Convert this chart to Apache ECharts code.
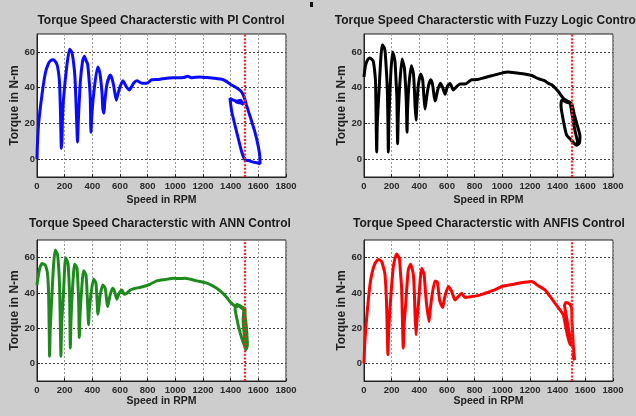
<!DOCTYPE html>
<html>
<head>
<meta charset="utf-8">
<script src="https://cdn.jsdelivr.net/npm/echarts@6/dist/echarts.min.js"></script>
<style>
html,body{margin:0;padding:0;background:#cdcdcd;}
#chart{width:636px;height:416px;}
</style>
</head>
<body>
<div id="chart"></div>
<script>
// ---- data ----
const xTicks = [0, 200, 400, 600, 800, 1000, 1200, 1400, 1600, 1800];
const yTicks = [0, 20, 40, 60];
const refSpeed = 1500;
const titles = [
  'Torque Speed Characterstic with PI Control',
  'Torque Speed Characterstic with Fuzzy Logic Control',
  'Torque Speed Characterstic with ANN Control',
  'Torque Speed Characterstic with ANFIS Control'
];

const piSpeed = [0,3,12,36,60,80,96,120,144,158,164,170,176,180,184,192,217,236,253,270,277,285,293,298,313,330,342,356,366,378,385,390,396,409,438,448,457,470,476,484,490,505,529,540,553,573,580,597,621,645,669,680,698,722,758,794,830,880,938,1000,1059,1090,1120,1179,1230,1275,1347,1400,1450,1480,1500,1515,1540,1576,1600,1610,1612,1590,1564,1530,1504,1480,1444,1408,1395,1420,1456,1492,1470,1440,1465,1495];
const piTorque = [0,8,20,36,48,53,55,55.6,53,47,41,25,6,10,22,34,53,61.5,59.5,50,41.5,25,9.6,20,43,55,57.5,55,53,43,34,15,24,36,51.5,50,47,37,28,25.6,32,41.6,47,45.5,41.6,33,35,39.7,43.8,40.6,38.7,40,42.5,43.8,42.5,42.5,44.4,44.6,45.3,45.5,45.7,46.3,45.5,46,45.6,45.3,44.4,41.8,39.5,37.5,34,30,24,15,7,2,-2.6,-2,-1.7,-0.8,-0.4,4,15,26.5,34,33,32,30.6,33,32,31.5,31];

const fuzzySpeed = [0,10,25,43,67,80,84,88,92,96,111,122,132,145,152,163,169,173,176,180,193,207,215,224,233,238,243,248,260,275,283,292,300,306,311,315,325,342,357,365,369,376,382,393,410,424,433,441,450,465,482,496,513,520,533,552,569,586,595,605,622,646,670,694,730,778,820,875,940,995,1043,1080,1116,1170,1212,1260,1308,1330,1357,1405,1441,1470,1501,1520,1545,1561,1557,1537,1500,1465,1445,1424,1430,1460,1490,1500,1520,1540,1552,1540,1550];
const fuzzyTorque = [46,52,55.5,56.6,54.7,47,41.6,20,4,20,41.6,57,64,62.5,60.4,48,37.8,20,4,22,47,60,58,54.7,42,34,8.6,25,43.4,56,54,51,42,32,15,28,41.6,52.3,48,38,30,21.8,30,41.6,47.6,44.4,35,28,33,40.6,44.4,41.6,32.5,34,38.7,42.5,40,36.3,38.5,41,42.3,38.7,40.6,42,42,44.4,44.5,45.7,47,48.1,48.7,48.4,48.1,47.5,46.8,45,43.8,42.5,41.6,37.8,34,32.5,31,25,18,13,9,7.7,10.5,13.4,20,30,33,32,31,27,18,11,8,9,10];

const annSpeed = [0,10,20,36,60,77,84,88,91,96,108,120,132,149,160,164,169,173,178,192,207,224,232,236,241,246,257,272,289,296,301,306,311,320,337,354,362,366,373,378,390,409,426,434,440,446,457,476,493,502,510,516,529,546,561,577,594,614,630,650,674,698,770,820,866,930,987,1030,1071,1110,1155,1227,1270,1299,1340,1372,1400,1420,1440,1460,1480,1504,1504,1512,1516,1521,1511,1497,1480,1460,1449,1432,1445,1470,1495,1490,1500,1510,1515];
const annTorque = [44.5,50,54,56.6,55.7,50,38.9,20,4,20,38.9,56,64.3,61.5,50,40.8,20,4,22,40.8,60,56.8,46,37,8.7,25,42.6,56.2,54,45,35,14.7,27,38.9,52.5,50.2,40,33.2,21.9,30,38.9,47.9,45.5,36,27.9,31,38.9,44.5,42.6,37,32.3,34,38.9,42.6,40.8,36.4,39.8,41.7,39.2,39.8,41.7,42.3,43.6,45,46.8,47.6,48.3,48.1,48.3,47.7,46.8,45.5,44,42.6,40,37.4,34.5,33.2,32,33,32,31,27.5,22,18,10.6,7.7,10.6,14.3,20,23.8,31,33.5,32,30,25,15,10,8];

const anfisSpeed = [0,6,19,43,60,80,104,128,145,152,160,164,173,178,188,212,236,255,265,272,284,290,301,320,337,357,365,369,376,382,393,417,434,445,453,470,478,489,513,530,540,549,569,575,585,610,634,658,682,706,730,778,830,875,940,995,1050,1116,1160,1212,1260,1308,1345,1380,1420,1441,1460,1477,1489,1500,1460,1450,1460,1489,1501,1503,1508,1513,1520,1522,1515,1510];
const anfisTorque = [0,12,25.7,44.5,52,56.8,59,57.7,53,50.2,40,31.3,4.9,18,31.3,54.9,62,59.6,50,42.6,8.7,22,33.2,53,56.2,50.2,38,27.5,16.2,24,33.2,54,50.6,40,33.2,23.8,30,37,46.8,46,40,35,31.7,34,37.9,43.6,40.8,36,37.9,39.8,37.4,37.9,38.6,39.8,41.5,43.6,44.5,45.5,46,46.4,44,41.7,38,34.2,30,27.5,20,14,11,10,28,33,34.5,33.5,31.3,25,17,10,4,2,3,6];

const seriesList = [
  {speed: piSpeed, torque: piTorque, color: '#0a0aff'},
  {speed: fuzzySpeed, torque: fuzzyTorque, color: '#000000'},
  {speed: annSpeed, torque: annTorque, color: '#1e8a1e'},
  {speed: anfisSpeed, torque: anfisTorque, color: '#ff0000'}
];

// ---- layout ----
const grids = [
  {left: 37, top: 34, width: 249, height: 143},
  {left: 364, top: 34, width: 249, height: 143},
  {left: 37, top: 240, width: 249, height: 141},
  {left: 364, top: 240, width: 249, height: 141}
];
const titlePos = [[161, 15], [487, 15], [160, 218], [489, 218]];
const xNameGap = [18, 18, 15, 15];

const sans = "'Liberation Sans',Arial,sans-serif";

const chart = echarts.init(document.getElementById('chart'), null, {renderer: 'canvas'});

const option = {
  backgroundColor: '#cdcdcd',
  animation: false,
  grid: grids.map(g => Object.assign({show: true, backgroundColor: '#ffffff', borderColor: '#222', borderWidth: 1, containLabel: false}, g)),
  xAxis: grids.map((g, i) => ({
    type: 'value', gridIndex: i, min: 0, max: 1800, interval: 200,
    axisLine: {show: true, onZero: false, lineStyle: {color: '#222', width: 1}},
    axisTick: {show: true, inside: true, length: 3, lineStyle: {color: '#222'}},
    axisLabel: {color: '#2a2a2a', fontSize: 9.5, fontWeight: 'bold', fontFamily: sans, margin: 4,
      showMinLabel: true, showMaxLabel: true, hideOverlap: false,
      formatter: v => String(v)},
    splitLine: {show: true, lineStyle: {color: '#999', type: [2, 2], width: 1}},
    name: 'Speed in RPM', nameLocation: 'middle', nameGap: xNameGap[i],
    nameTextStyle: {color: '#222', fontSize: 10.5, fontWeight: 'bold', fontFamily: sans}
  })),
  yAxis: grids.map((g, i) => ({
    type: 'value', gridIndex: i, min: -10, max: 70,
    axisLine: {show: true, onZero: false, lineStyle: {color: '#222', width: 1}},
    axisTick: {show: true, inside: true, length: 3, customValues: yTicks, lineStyle: {color: '#222'}},
    axisLabel: {color: '#2a2a2a', fontSize: 9.5, fontWeight: 'bold', fontFamily: sans, margin: 2, customValues: yTicks,
      formatter: v => String(v)},
    splitLine: {show: true, lineStyle: {color: '#444', type: [2, 2], width: 1}},
    name: 'Torque in N-m', nameLocation: 'middle', nameGap: 15, nameRotate: 90,
    nameTextStyle: {color: '#222', fontSize: 12, fontWeight: 'bold', fontFamily: sans}
  })),
  series: seriesList.map((s, i) => ({
    type: 'line', xAxisIndex: i, yAxisIndex: i,
    data: s.speed.map((v, k) => [v, s.torque[k]]),
    symbol: 'none', showSymbol: false, smooth: 0.2,
    lineStyle: {color: s.color, width: 3},
    itemStyle: {color: s.color},
    clip: true,
    markLine: {
      silent: true, symbol: ['none', 'none'], label: {show: false},
      lineStyle: {color: '#ff2020', type: [2, 1.6], width: 2.2},
      data: [{xAxis: refSpeed}]
    }
  })),
  graphic: titles.map((t, i) => ({
    type: 'text', x: titlePos[i][0], y: titlePos[i][1],
    style: {text: t, fill: '#1a1a1a', font: 'bold 12px ' + sans, textAlign: 'center', textVerticalAlign: 'top'}
  })).concat([
    {type: 'rect', shape: {x: 310, y: 2, width: 3, height: 5}, style: {fill: '#111'}}
  ])
};
chart.setOption(option);
</script>
</body>
</html>
